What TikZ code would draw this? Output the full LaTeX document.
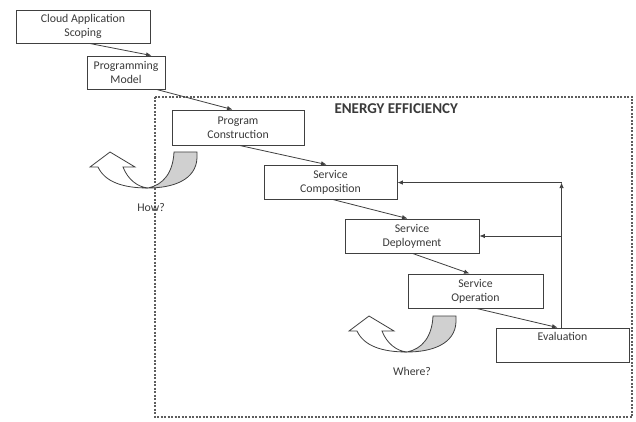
\documentclass[tikz,border=0pt]{standalone}
\usepackage{fontspec}
\setmainfont{Carlito}
\usetikzlibrary{arrows.meta}
\definecolor{linec}{HTML}{404040}
\definecolor{textc}{HTML}{3A3A3A}
\definecolor{shade}{HTML}{D0D0D0}
\begin{document}
\begin{tikzpicture}[x=1pt,y=-1pt,
  box/.style={draw=linec, line width=0.9pt, fill=white, align=center, inner sep=0pt,
    text=textc, font=\fontsize{11.8}{14}\selectfont},
  arr/.style={draw=linec, line width=0.8pt, -{Latex[length=5.5pt,width=4.5pt]}},
  frame/.style={draw=linec!85, line width=1.1pt, dash pattern=on 2pt off 1.5pt},
  lbl/.style={text=textc, font=\fontsize{11.8}{14}\selectfont},
  uturn/.pic={
    \draw[linec, line width=0.8pt, fill=white]
      (-25,-21) -- (-13,-21) -- (-38,-36) -- (-58,-21) -- (-50,-21)
      .. controls (-43,-6) and (-25,0) .. (0,0)
      .. controls (-10,-1) and (-20,-8) .. (-25,-21) -- cycle;
    \draw[linec, line width=0.8pt, fill=shade]
      (26,-36) -- (49,-36) -- (49,-30)
      .. controls (48,-8) and (25,0) .. (0,0)
      .. controls (15,-3) and (25,-15) .. (26,-36) -- cycle;
  }]
\useasboundingbox (0,0) rectangle (636,422);
\fill[white] (0,0) rectangle (636,422);

% dashed energy-efficiency frame
\draw[frame] (155,97) rectangle (632,417);
\node[anchor=west, text=textc, font=\bfseries\fontsize{15}{17}\selectfont] (ee) at (331,109) {ENERGY EFFICIENCY};

% boxes
\node[box, minimum width=134pt, minimum height=33pt] (b1) at (83,26.5) {Cloud Application\\Scoping};
\node[box, minimum width=78pt, minimum height=33pt] (b2) at (126,72.5) {Programming\\Model};
\node[box, minimum width=132pt, minimum height=35pt] (b3) at (238,127.5) {Program\\Construction};
\node[box, minimum width=133pt, minimum height=34pt] (b4) at (330.5,182) {Service\\Composition};
\node[box, minimum width=134pt, minimum height=34pt] (b5) at (412,236) {Service\\Deployment};
\node[box, minimum width=135pt, minimum height=34pt] (b6) at (475.5,291) {Service\\Operation};
\node[box, minimum width=133pt, minimum height=34pt] (b7) at (562.5,345) {Evaluation\\\strut};

% flow arrows
\draw[arr] ([xshift=74pt]b1.south west) -- ([xshift=65pt]b2.north west);
\draw[arr] ([xshift=70pt]b2.south west) -- ([xshift=61pt]b3.north west);
\draw[arr] ([xshift=68pt]b3.south west) -- ([xshift=63pt]b4.north west);
\draw[arr] ([xshift=69pt]b4.south west) -- ([xshift=63pt]b5.north west);
\draw[arr] ([xshift=68pt]b5.south west) -- ([xshift=62pt]b6.north west);
\draw[arr] ([xshift=69pt]b6.south west) -- ([xshift=62pt]b7.north west);

% feedback
\draw[arr] ([xshift=66pt]b7.north west) -- ++(0,-145) coordinate (fb);
\draw[arr] (fb) -- (fb -| b4.east);
\draw[arr] (b5.east -| fb) -- (b5.east);

% u-turn arrows
\pic at (148,188) {uturn};
\node[lbl] (how) at (151,208) {How?};
\pic at (407,352) {uturn};
\node[lbl] (where) at (412,371) {Where?};
\end{tikzpicture}
\end{document}
